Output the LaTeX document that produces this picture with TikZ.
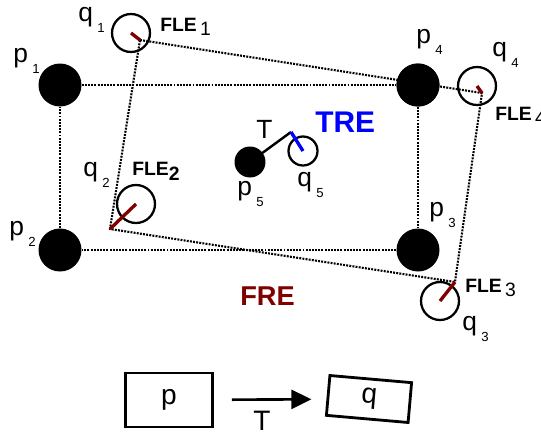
\documentclass[tikz,border=0pt]{standalone}
\usepackage{fontspec}
\setmainfont{Liberation Sans}
\usetikzlibrary{arrows.meta}
\definecolor{errred}{RGB}{128,0,0}
\definecolor{treblue}{RGB}{0,0,255}
\newcommand{\lsub}[1]{\,\raisebox{-6.5pt}{\fontsize{7.5}{8}\selectfont #1}}
\newcommand{\fsub}[1]{\raisebox{-2.5pt}{\mdseries #1}}

\begin{document}
\begin{tikzpicture}[x=0.02cm,y=-0.02cm,
    pdot/.style={circle,fill=black,minimum size=0.86cm,inner sep=0pt},
    qring/.style={circle,draw=black,line width=1.3pt,minimum size=0.76cm,inner sep=0pt},
    dotline/.style={line width=1.2pt,dash pattern=on 1.1pt off 0.7pt},
    fle/.style={errred,line width=1.9pt},
    lab/.style={anchor=base west,inner sep=0pt,font=\fontsize{15}{17}\selectfont},
    flelab/.style={anchor=base west,inner sep=0pt,font=\bfseries\fontsize{11}{13}\selectfont}]
  \useasboundingbox (0,0) rectangle (541,433);
  % points p and their estimates q
  \node[pdot] (p1) at (60,85) {};
  \node[pdot] (p2) at (60,250) {};
  \node[pdot] (p3) at (418,250) {};
  \node[pdot] (p4) at (418,85) {};
  \node[pdot,minimum size=0.62cm] (p5) at (250,162) {};
  \node[qring] (q1) at (131,33) {};
  \node[qring] (q2) at (136,204) {};
  \node[qring] (q3) at (440,301) {};
  \node[qring] (q4) at (477,86) {};
  \node[qring,minimum size=0.58cm] (q5) at (303,151) {};
  \coordinate (e1) at (140,40);
  \coordinate (e2) at (110,229);
  \coordinate (e3) at (455,282);
  \coordinate (e4) at (482,93);
  \coordinate (e5) at (291,132);
  % dotted outlines
  \draw[dotline] (p1)--(p4) (p4)--(p3) (p3)--(p2) (p2)--(p1);
  \draw[dotline] (e1)--(e4)--(e3)--(e2)--cycle;
  \node[pdot] at (p4) {};
  % errors
  \draw[fle] (q1.center)--(e1);
  \draw[fle] (q2.center)--(e2);
  \draw[fle] (q3.center)--(e3);
  \draw[fle] (q4.center)--(e4);
  \draw[line width=1.4pt] (p5.center)--(e5);
  \draw[treblue,line width=1.9pt] (e5)--(q5.center);
  % labels
  \node[lab] (lp1) at (13,62) {p\lsub{1}};
  \node[lab] (lp2) at (9,235) {p\lsub{2}};
  \node[lab] (lp3) at (429,216) {p\lsub{3}};
  \node[lab] (lp4) at (416,43) {p\lsub{4}};
  \node[lab] (lp5) at (237,195) {p\lsub{5}};
  \node[lab] (lq1) at (78,21) {q\lsub{1}};
  \node[lab] (lq2) at (83,176) {q\lsub{2}};
  \node[lab] (lq3) at (462,330) {q\lsub{3}};
  \node[lab] (lq4) at (492,56) {q\lsub{4}};
  \node[lab] (lq5) at (297,186) {q\lsub{5}};
  \node[lab] (lt) at (256,138) {T};
  \node[flelab] (f1) at (160,31) {FLE\,\fsub{1}};
  \node[flelab] (f2) at (132,175) {FLE\raisebox{-3pt}{2}};
  \node[flelab] (f3) at (465,292) {FLE\,\fsub{3}};
  \node[flelab] (f4) at (495,120) {FLE\,\fsub{4}};
  \node[anchor=base west,inner sep=0pt,text=treblue,font=\bfseries\fontsize{17}{19}\selectfont] (tre) at (315,132) {TRE};
  \node[anchor=base west,inner sep=0pt,text=errred,font=\bfseries\fontsize{15.5}{17}\selectfont] (fre) at (240,305) {FRE};
  % legend
  \node[draw,line width=1.6pt,minimum width=1.74cm,minimum height=1.08cm,font=\fontsize{16}{18}\selectfont] (pbox) at (169,400) {p};
  \node[draw,line width=1.6pt,minimum width=1.64cm,minimum height=0.8cm,rotate=-5,font=\fontsize{16}{18}\selectfont] (qbox) at (369,399) {q};
  \draw[line width=1.5pt,-{Triangle[length=0.4cm,width=0.38cm]},shorten <=0.36cm,shorten >=0.3cm] (pbox)--(qbox);
  \node[anchor=base west,inner sep=0pt,font=\fontsize{16}{18}\selectfont] (lt2) at (253,430) {T};
\end{tikzpicture}
\end{document}
